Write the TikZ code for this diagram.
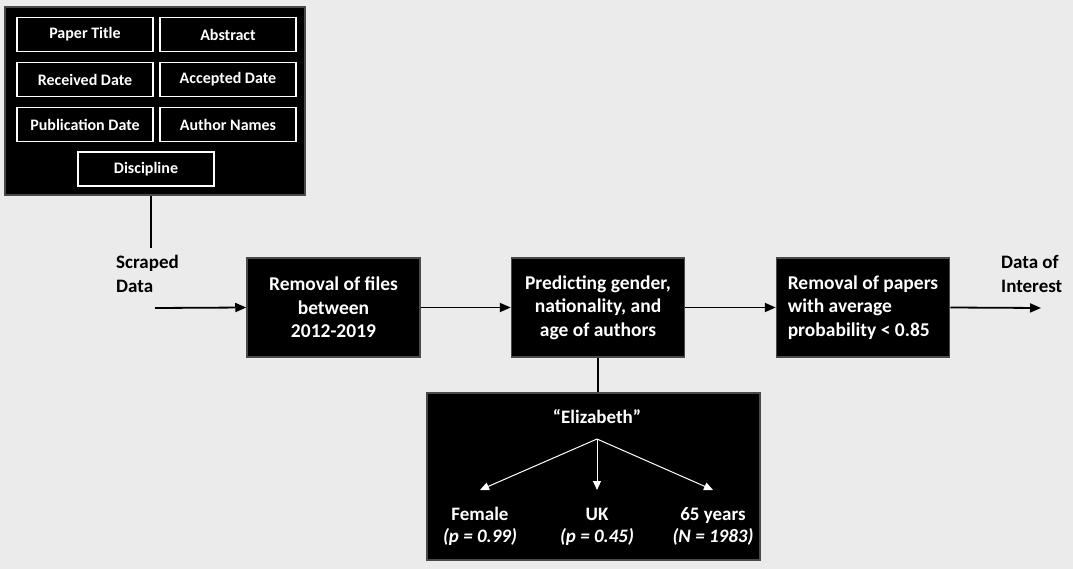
\documentclass[tikz,border=0pt]{standalone}
\usepackage{fontspec}
\setmainfont{Carlito}
\usetikzlibrary{arrows.meta}
\definecolor{bg}{HTML}{EBEBEB}
\definecolor{edge}{HTML}{4A4A4A}
\tikzset{
  blackbox/.style={draw=edge, line width=1.5pt, fill=black, inner sep=0pt},
  smallbox/.style={draw=white, line width=1.6pt, fill=black, text=white, inner sep=0pt,
     minimum width=136pt, minimum height=34pt, font=\bfseries\fontsize{16}{18}\selectfont},
  stepbox/.style={blackbox, text=white, minimum width=173pt, minimum height=99pt,
     font=\bfseries\fontsize{19.5}{23.5}\selectfont},
  lbl/.style={inner sep=0pt, font=\bfseries\fontsize{19}{24}\selectfont},
  wlbl/.style={inner sep=0pt, text=white, font=\bfseries\fontsize{19}{23}\selectfont},
  wlbli/.style={inner sep=0pt, text=white, font=\bfseries\itshape\fontsize{19}{23}\selectfont},
  flow/.style={line width=1.8pt, -{Triangle[length=11pt,width=9pt]}},
  wflow/.style={draw=white, line width=1pt, -{Triangle[length=9pt,width=8pt]}}
}
\begin{document}
\begin{tikzpicture}[x=1pt,y=-1pt]
\fill[bg] (0,0) rectangle (1073,569);
\useasboundingbox (0,0) rectangle (1073,569);

% top data box
\node[blackbox, minimum width=300pt, minimum height=188pt] (top) at (155,101) {};
\node[smallbox] (title) at (85,34.5) {Paper Title};
\node[smallbox] (abs) at (228,34.5) {Abstract};
\node[smallbox] (rec) at (85,79.5) {Received Date};
\node[smallbox] (acc) at (228,79.5) {Accepted Date};
\node[smallbox] (pub) at (85,124.5) {Publication Date};
\node[smallbox] (auth) at (228,124.5) {Author Names};
\node[smallbox] (disc) at (146,169) {Discipline};

\coordinate (sc) at (151,248);
\draw[line width=1.8pt] (sc |- top.south) -- (sc);
\node[lbl, anchor=base west] (scr1) at (116,269) {Scraped};
\node[lbl, anchor=base west] (scr2) at (116,293) {Data};

% process boxes
\node[stepbox, align=center] (b1) at (333.5,307.5) {Removal of files\\between\\2012-2019};
\node[stepbox, align=center] (b2) at (598,307.5) {Predicting gender,\\nationality, and\\age of authors};
\node[stepbox, align=left] (b3) at (863,307.5) {Removal of papers\\with average\\probability < 0.85};

\coordinate (in) at (155,308);
\coordinate (out) at (1041,308);
\draw[flow] (in) -- (b1.west);
\draw[flow] (b1.east) -- (b2.west);
\draw[flow] (b2.east) -- (b3.west);
\draw[flow] (b3.east) -- (out);

\node[lbl, anchor=base west] (doi1) at (1001,269) {Data of};
\node[lbl, anchor=base west] (doi2) at (1001,293) {Interest};

% example box
\node[blackbox, minimum width=333pt, minimum height=167pt] (ex) at (593.5,476.5) {};
\draw[line width=1.8pt] (b2.south) -- (b2.south |- ex.north);

\node[wlbl, anchor=base] (eliz) at (597,423) {“Elizabeth”};
\coordinate (eo) at (597,439);
\node[wlbl, anchor=base] (fem) at (480,520) {Female};
\node[wlbli, anchor=base] (femp) at (480,542) {(p = 0.99)};
\node[wlbl, anchor=base] (uk) at (597,520) {UK};
\node[wlbli, anchor=base] (ukp) at (597,542) {(p = 0.45)};
\node[wlbl, anchor=base] (age) at (713,520) {65 years};
\node[wlbli, anchor=base] (agep) at (713,542) {(N = 1983)};

\coordinate (tf) at (480,490);
\coordinate (tu) at (597,490);
\coordinate (ta) at (713,490);
\draw[wflow] (eo) -- (tf);
\draw[wflow] (eo) -- (tu);
\draw[wflow] (eo) -- (ta);
\end{tikzpicture}
\end{document}
